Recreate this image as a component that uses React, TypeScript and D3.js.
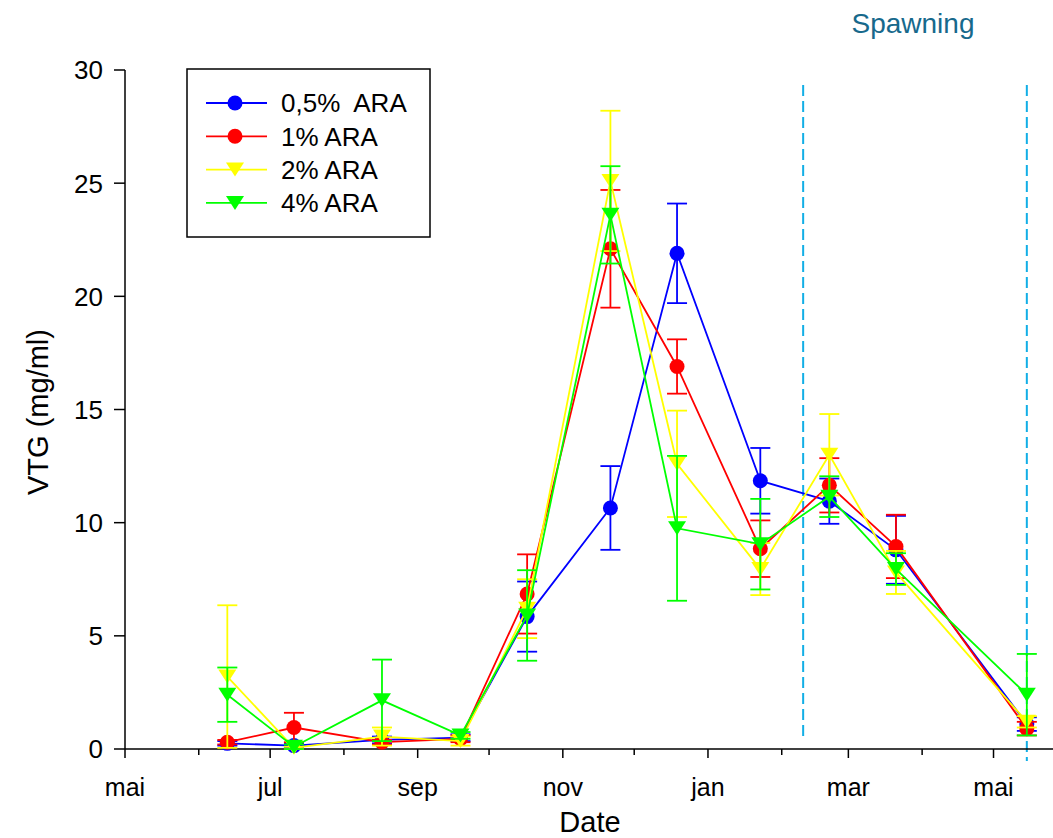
import React from "react";
import * as d3 from "d3";

const sampleDates = [
  "2009-06-13", "2009-07-11", "2009-08-17", "2009-09-19", "2009-10-17",
  "2009-11-21", "2009-12-19", "2010-01-23", "2010-02-21", "2010-03-21", "2010-05-15",
];
const ara05 = [0.25, 0.15, 0.4, 0.5, 5.85, 10.65, 21.9, 11.85, 10.95, 8.8, 1.1];
const ara05Err = [0.1, 0.1, 0.15, 0.15, 1.55, 1.85, 2.2, 1.45, 1.0, 1.5, 0.3];
const ara1 = [0.3, 0.95, 0.3, 0.45, 6.85, 22.1, 16.9, 8.85, 11.65, 8.95, 0.9];
const ara1Err = [0.1, 0.65, 0.1, 0.15, 1.75, 2.6, 1.2, 1.25, 1.2, 1.4, 0.3];
const ara2 = [3.2, 0.05, 0.55, 0.35, 6.2, 25.1, 12.6, 7.95, 13.0, 7.8, 1.2];
const ara2Err = [3.15, 0.05, 0.4, 0.2, 1.3, 3.1, 2.35, 1.15, 1.8, 0.95, 0.25];
const ara4 = [2.4, 0.1, 2.15, 0.6, 5.9, 23.6, 9.75, 9.05, 11.15, 7.95, 2.4];
const ara4Err = [1.2, 0.1, 1.8, 0.15, 2.0, 2.15, 3.2, 2.0, 0.9, 0.7, 1.8];

const seriesNames = ["0,5%  ARA", "1% ARA", "2% ARA", "4% ARA"];
const seriesColors = ["#0000ff", "#ff0000", "#ffff00", "#00ff00"];
const seriesShapes = ["circle", "circle", "triangle", "triangle"];

const spawningDates = ["2010-02-10", "2010-05-15"];
const xDomain = ["2009-05-01", "2010-05-26"];
const monthLabels = ["mai", "jul", "sep", "nov", "jan", "mar", "mai"];
const yTicks = [0, 5, 10, 15, 20, 25, 30];

const FONT = "'Liberation Sans', Arial, sans-serif";

function Marker({ shape, x, y, color }: { shape: string; x: number; y: number; color: string }) {
  if (shape === "circle") return <circle cx={x} cy={y} r={7.5} fill={color} />;
  const w = 9, h = 7;
  return <path d={`M${x - w},${y - h}L${x + w},${y - h}L${x},${y + h}Z`} fill={color} />;
}

export default function App() {
  const W = 1053, H = 838;
  const parse = d3.timeParse("%Y-%m-%d");
  const x = d3.scaleTime().domain(xDomain.map((d) => parse(d)!)).range([125, 1053]);
  const y = d3.scaleLinear().domain([0, 30]).range([749, 70]);
  const dates = sampleDates.map((d) => parse(d)!);

  const series = [
    { v: ara05, e: ara05Err },
    { v: ara1, e: ara1Err },
    { v: ara2, e: ara2Err },
    { v: ara4, e: ara4Err },
  ];

  const majorTicks = d3.timeMonth.every(2)!.range(parse("2009-05-01")!, parse("2010-05-02")!);
  const allMonths = d3.timeMonth.range(parse("2009-05-01")!, parse("2010-05-26")!);
  const minorTicks = allMonths.filter((m) => m.getMonth() % 2 === 1);

  const line = d3
    .line<number>()
    .x((_, i) => x(dates[i]))
    .y((d) => y(d));

  return (
    <svg width={W} height={H} style={{ position: "absolute", left: 0, top: 0 }} fontFamily={FONT}>
      <rect width={W} height={H} fill="#fff" />
      {/* spawning lines */}
      {spawningDates.map((d, i) => (
        <line
          key={d}
          x1={x(parse(d)!)}
          x2={x(parse(d)!)}
          y1={85}
          y2={i === 0 ? 741 : 761}
          stroke="#12aee6"
          strokeWidth={2}
          strokeDasharray="11,5"
        />
      ))}
      <text x={913} y={33} textAnchor="middle" fontSize={28} fill="#17698c">
        Spawning
      </text>

      {/* axes */}
      <line x1={125} x2={1053} y1={y(0)} y2={y(0)} stroke="#000" strokeWidth={1.5} />
      <line x1={125} x2={125} y1={y(30)} y2={y(0)} stroke="#000" strokeWidth={1.5} />
      {yTicks.map((t) => (
        <g key={t}>
          <line x1={114} x2={125} y1={y(t)} y2={y(t)} stroke="#000" strokeWidth={1.5} />
          <text x={103} y={y(t)} dy="0.36em" textAnchor="end" fontSize={26}>
            {t}
          </text>
        </g>
      ))}
      {majorTicks.map((t, i) => (
        <g key={"M" + i}>
          <line x1={x(t)} x2={x(t)} y1={y(0)} y2={y(0) + 9} stroke="#000" strokeWidth={1.5} />
          <text x={x(t)} y={796} textAnchor="middle" fontSize={25}>
            {monthLabels[i]}
          </text>
        </g>
      ))}
      {minorTicks.map((t, i) => (
        <line key={"m" + i} x1={x(t)} x2={x(t)} y1={y(0)} y2={y(0) + 6} stroke="#000" strokeWidth={1.5} />
      ))}
      <text x={590} y={832} textAnchor="middle" fontSize={29}>
        Date
      </text>
      <text transform="translate(48,412) rotate(-90)" textAnchor="middle" fontSize={29}>
        VTG (mg/ml)
      </text>

      {/* series */}
      {series.map((s, si) => (
        <g key={si}>
          <path d={line(s.v)!} fill="none" stroke={seriesColors[si]} strokeWidth={1.8} />
          {s.v.map((v, i) => {
            const cx = x(dates[i]);
            const yt = y(v + s.e[i]);
            const yb = y(Math.max(0, v - s.e[i]));
            return (
              <g key={i} stroke={seriesColors[si]} strokeWidth={1.8}>
                <line x1={cx} x2={cx} y1={yt} y2={yb} />
                <line x1={cx - 10} x2={cx + 10} y1={yt} y2={yt} />
                <line x1={cx - 10} x2={cx + 10} y1={yb} y2={yb} />
              </g>
            );
          })}
          {s.v.map((v, i) => (
            <Marker key={"k" + i} shape={seriesShapes[si]} x={x(dates[i])} y={y(v)} color={seriesColors[si]} />
          ))}
        </g>
      ))}

      {/* legend */}
      <rect x={187} y={69} width={243} height={168} fill="#fff" stroke="#000" strokeWidth={1.5} />
      {seriesNames.map((n, i) => {
        const ly = 103 + i * 33.3;
        return (
          <g key={n}>
            <line x1={206} x2={267} y1={ly} y2={ly} stroke={seriesColors[i]} strokeWidth={1.8} />
            <Marker shape={seriesShapes[i]} x={235} y={ly} color={seriesColors[i]} />
            <text x={281} y={ly} dy="0.36em" fontSize={26} style={{ whiteSpace: "pre" }}>
              {n}
            </text>
          </g>
        );
      })}
    </svg>
  );
}
